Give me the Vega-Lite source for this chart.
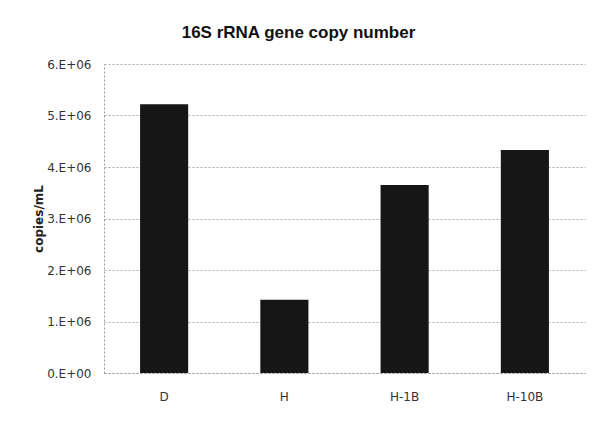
{
  "$schema": "https://vega.github.io/schema/vega-lite/v6.json",
  "autosize": "none",
  "width": 481,
  "height": 309,
  "padding": {"left": 104, "top": 64, "right": 8, "bottom": 55},
  "background": "white",
  "title": {"text": "16S rRNA gene copy number", "font": "Liberation Sans", "fontSize": 17, "fontWeight": "bold", "color": "#111", "offset": 16, "anchor": "middle", "dx": -46},
  "data": {"values": [
    {"sample": "D", "copies": 5220000},
    {"sample": "H", "copies": 1420000},
    {"sample": "H-1B", "copies": 3650000},
    {"sample": "H-10B", "copies": 4330000}
  ]},
  "mark": {"type": "bar", "color": "#161616"},
  "encoding": {
    "x": {"field": "sample", "type": "nominal", "sort": null,
      "scale": {"paddingInner": 0.6, "paddingOuter": 0.3},
      "axis": {"title": null, "labelAngle": 0, "ticks": false, "labelPadding": 18, "labelFont": "DejaVu Sans", "labelFontSize": 12, "labelColor": "#333", "domainColor": "#999", "domainDash": [2, 2]}},
    "y": {"field": "copies", "type": "quantitative",
      "scale": {"domain": [0, 6000000]},
      "axis": {"title": "copies/mL", "titleFont": "DejaVu Sans", "titleFontSize": 12, "titleFontWeight": "bold", "titleColor": "#222", "titlePadding": 1,
        "values": [0, 1000000, 2000000, 3000000, 4000000, 5000000, 6000000],
        "labelExpr": "datum.value == 0 ? '0.E+00' : format(datum.value / 1000000, 'd') + '.E+06'",
        "labelFont": "DejaVu Sans", "labelFontSize": 12, "labelColor": "#333", "labelPadding": 13,
        "ticks": false, "domainColor": "#999", "domainDash": [2, 2],
        "grid": true, "gridColor": "#aaa", "gridDash": [2, 2]}}
  },
  "config": {"view": {"stroke": null}}
}
